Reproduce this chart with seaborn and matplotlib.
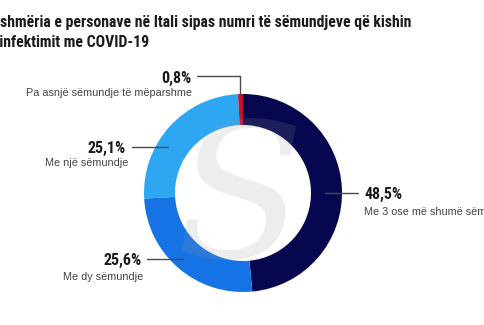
import matplotlib
matplotlib.use("Agg")
import matplotlib.pyplot as plt
import seaborn as sns

# Data
categories = ["Me 3 ose më shumë sëmundje", "Me dy sëmundje", "Me një sëmundje",
              "Pa asnjë sëmundje të mëparshme"]
shares = [48.5, 25.6, 25.1, 0.8]
value_labels = ["48,5%", "25,6%", "25,1%", "0,8%"]
colors = ["#06074e", "#1573e5", "#2ea7f3", "#c8102e"]

sns.set_theme(style="white")
plt.rcParams["font.family"] = ["Liberation Sans", "DejaVu Sans"]
COND = ["Roboto Condensed", "Liberation Sans Narrow", "Liberation Sans", "DejaVu Sans"]

W, H = 485, 325
fig = plt.figure(figsize=(W / 100, H / 100), dpi=100)
ax = fig.add_axes([0, 0, 1, 1])


def Y(py):
    return H - py


cx, cy, r = 243, 193, 99
ax.pie(shares, colors=colors, startangle=90, counterclock=False,
       center=(cx, Y(cy)), radius=r,
       wedgeprops=dict(width=31, linewidth=0))
ax.set_xlim(0, W)
ax.set_ylim(0, H)
ax.set_aspect("equal")
ax.axis("off")

# faint logo mark over the ring
ax.text(240, Y(205), "S", ha="center", va="center", fontsize=135,
        family="DejaVu Serif", style="italic", color="#9a9a9a", alpha=0.17,
        zorder=5)

# Title (runs past the left edge)
tfont = dict(family=COND, fontweight="bold", fontsize=11.3, color="#1a1a1a")
ax.text(411, Y(22), "Vdekshmëria e personave në Itali sipas numri të sëmundjeve që kishin",
        ha="right", va="center", **tfont)
ax.text(149, Y(42), "para infektimit me COVID-19", ha="right", va="center", **tfont)

vfont = dict(family=COND, fontweight="bold", fontsize=11.5, color="#1a1a1a")
sfont = dict(fontsize=7.8, color="#444444")
lc = dict(color="#4a4a4a", linewidth=1.0)

# 48,5%
ax.plot([325, 358], [Y(193), Y(193)], **lc)
ax.text(365, Y(194), value_labels[0], ha="left", va="center", **vfont)
ax.text(364, Y(212), categories[0], ha="left", va="center", **sfont)

# 25,6%
ax.plot([147, 183], [Y(259), Y(259)], **lc)
ax.text(142, Y(260), value_labels[1], ha="right", va="center", **vfont)
ax.text(143, Y(277), categories[1], ha="right", va="center", **sfont)

# 25,1%
ax.plot([132, 168], [Y(147), Y(147)], **lc)
ax.text(126, Y(148), value_labels[2], ha="right", va="center", **vfont)
ax.text(128, Y(163), categories[2], ha="right", va="center", **sfont)

# 0,8%
ax.plot([197, 240, 240], [Y(76), Y(76), Y(95)], **lc)
ax.text(192, Y(78), value_labels[3], ha="right", va="center", **vfont)
ax.text(192, Y(93), categories[3], ha="right", va="center", **sfont)

fig.savefig("out.png", dpi=100, facecolor="white")
